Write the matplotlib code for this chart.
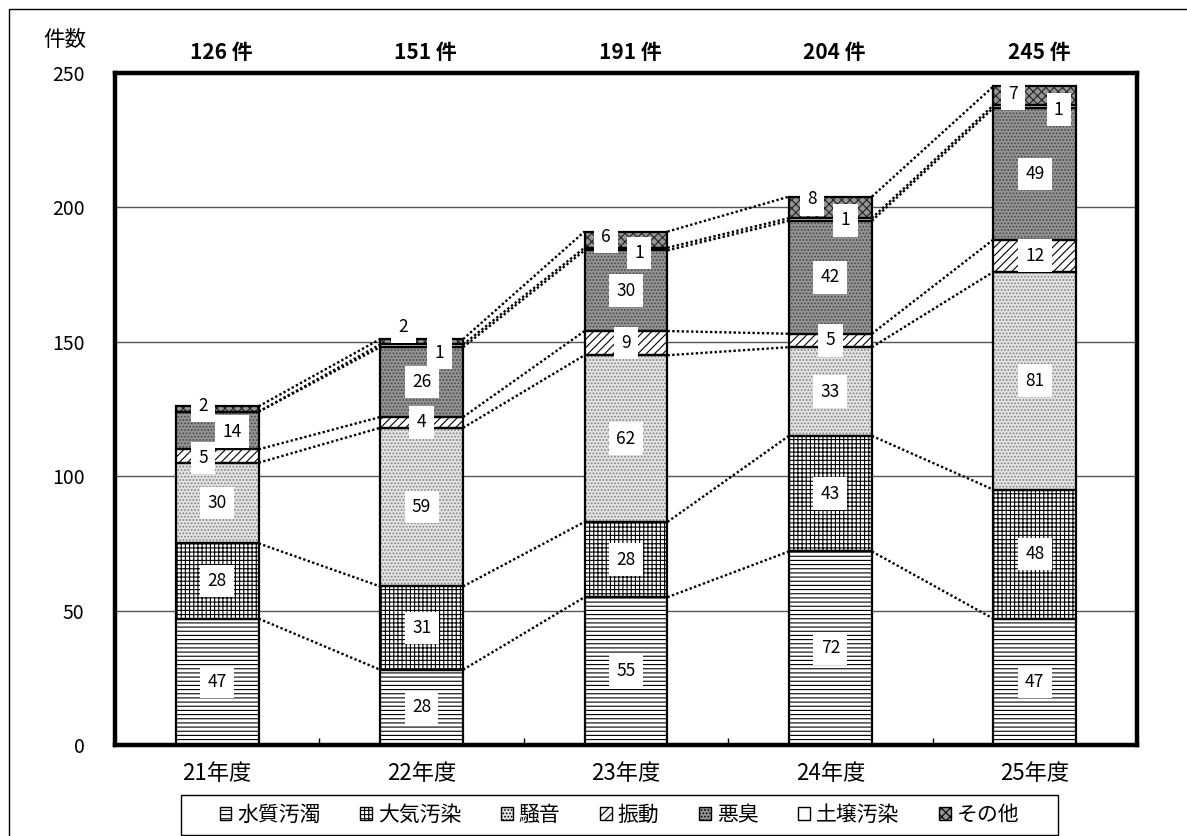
import numpy as np
import matplotlib.pyplot as plt
from matplotlib.patches import Patch, Rectangle

plt.rcParams['font.family'] = ['Noto Sans CJK JP', 'DejaVu Sans']
plt.rcParams['hatch.linewidth'] = 0.8

# data
years = ['21年度', '22年度', '23年度', '24年度', '25年度']
kinds = ['水質汚濁', '大気汚染', '騒音', '振動', '悪臭', '土壌汚染', 'その他']

water = [47, 28, 55, 72, 47]
air = [28, 31, 28, 43, 48]
noise = [30, 59, 62, 33, 81]
vibration = [5, 4, 9, 5, 12]
odor = [14, 26, 30, 42, 49]
soil = [0, 1, 1, 1, 1]
other = [2, 2, 6, 8, 7]
totals = [126, 151, 191, 204, 245]

series = [water, air, noise, vibration, odor, soil, other]

# (face, hatch, hatch colour) per series
styles = [
    ('white', '----', 'black'),
    ('white', '++++', 'black'),
    ('#e2e2e2', '.....', '#808080'),
    ('white', '////', 'black'),
    ('#949494', '.....', '#454545'),
    ('white', None, 'black'),
    ('#959595', 'xxxx', '#222222'),
]

# pixel nudges for the small labels (series index, bar index) -> (dx, dy down)
nudge = {
    (6, 0): (-14, -3), (6, 1): (-18, -15), (6, 2): (-20, -3), (6, 3): (-18, -8), (6, 4): (-22, -2),
    (5, 1): (18, 7), (5, 2): (13, 4), (5, 3): (15, 1), (5, 4): (24, 3),
    (4, 0): (15, 1), (3, 0): (-14, 2),
}

fig = plt.figure(figsize=(11.87, 8.36), dpi=100)
W, H = 1187, 836
ax = fig.add_axes([115 / W, 1 - 745 / H, (1137 - 115) / W, (745 - 73) / H])

x = np.arange(len(years))
w = 0.406
bottom = np.zeros(len(years))
tops = []
for s, (vals, (face, hatch, hc)) in enumerate(zip(series, styles)):
    vals = np.array(vals, dtype=float)
    ax.bar(x, vals, w, bottom=bottom, color=face, hatch=hatch, edgecolor=hc, linewidth=0, zorder=2)
    ax.bar(x, vals, w, bottom=bottom, fill=False, edgecolor='black', linewidth=1.6, zorder=3)
    for i in range(len(years)):
        if vals[i] <= 0:
            continue
        dx, dy = nudge.get((s, i), (0, 0))
        ax.annotate(str(int(vals[i])), xy=(x[i], bottom[i] + vals[i] / 2),
                    xytext=(dx * 0.72, -dy * 0.72), textcoords='offset points',
                    ha='center', va='center', fontsize=12.5, zorder=5,
                    bbox=dict(boxstyle='square,pad=0.42', fc='white', ec='none'))
    bottom = bottom + vals
    tops.append(bottom.copy())

# series lines between the bars
for top in tops:
    for i in range(len(years) - 1):
        ax.plot([x[i] + w / 2, x[i + 1] - w / 2], [top[i], top[i + 1]],
                color='black', lw=1.7, ls=(0, (1, 1)), zorder=1.5)

for i, t in enumerate(totals):
    ax.annotate(f'{t} 件', xy=(x[i], 250), xytext=(3, 15), textcoords='offset points',
                ha='center', va='center', fontsize=15, fontweight='bold', annotation_clip=False)

ax.set_xlim(-0.5, 4.5)
ax.set_ylim(0, 250)
ax.set_yticks(np.arange(0, 251, 50))
ax.set_xticks(x)
ax.set_xticklabels(years)
ax.set_xticks(np.arange(0.5, 4, 1), minor=True)
ax.tick_params(axis='y', length=0, pad=22, labelsize=14)
ax.tick_params(axis='x', which='major', length=0, pad=12, labelsize=16)
ax.tick_params(axis='x', which='minor', direction='in', length=5, width=1)
ax.yaxis.grid(True, color='#555555', lw=1)
ax.set_axisbelow(True)
for sp in ax.spines.values():
    sp.set_linewidth(3.2)

fig.text(65 / W, 1 - 40 / H, '件数', ha='center', va='center', fontsize=15.5)

# legend
handles = [Patch(facecolor=f, edgecolor='black', hatch=h, lw=1) for f, h, _ in styles]
fig.legend(handles, kinds, ncol=7, loc='center', frameon=False,
           bbox_to_anchor=((181 + 1058) / 2 / W, 1 - 815 / H),
           fontsize=15, handlelength=0.55, handleheight=0.55,
           handletextpad=0.3, columnspacing=1.9)
fig.patches.append(Rectangle((181 / W, 1 - 835 / H), 877 / W, 40 / H,
                             transform=fig.transFigure, fill=False, ec='black', lw=1))
fig.patches.append(Rectangle((9 / W, -0.05), 1.2, 1.05 - 9 / H,
                             transform=fig.transFigure, fill=False, ec='black', lw=1))

fig.savefig('out.png', dpi=100)
